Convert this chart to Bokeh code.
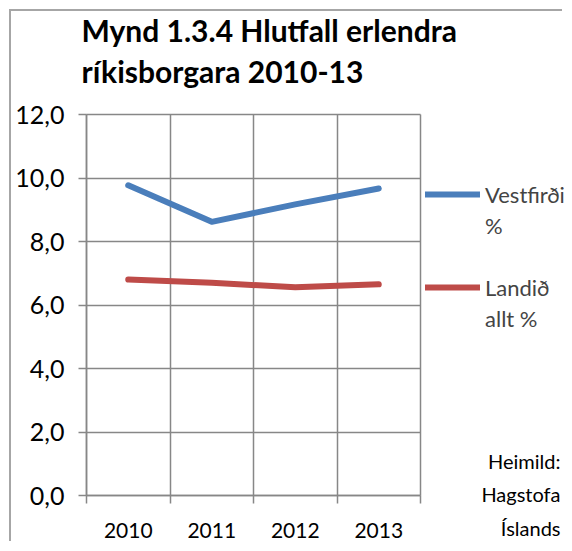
from bokeh.plotting import figure
from bokeh.models import (FixedTicker, CustomJSTickFormatter, Range1d, Legend,
                          LegendItem, Label)
from bokeh.embed import file_html
from bokeh.resources import INLINE

# ---- data ----
years = [2010, 2011, 2012, 2013]
vestfirdir = [9.77, 8.62, 9.17, 9.67]
landid = [6.80, 6.70, 6.56, 6.65]
y_ticks = [0, 2, 4, 6, 8, 10, 12]
legend_lines = [("Vestfirðir", 0), ("%", None), (" ", None), ("Landið", 1), ("allt %", None)]
title_text = "Mynd 1.3.4 Hlutfall erlendra\nríkisborgara 2010-13"
source_text = "Heimild:\nHagstofa\nÍslands"

FONT = "Lato"
GRID = "#878787"

# ---- layout: the frame fills the whole canvas; positions in canvas px ----
W, H = 553, 532
OX = 11                      # canvas origin on the page (margin 9 + border 2)
PL, PR = 86 - OX, 420 - OX   # first / last category boundary
PT, PB = 114 - OX, 495 - OX  # y = 12 / y = 0
ppx = (PR - PL) / len(years)
ppy = (PB - PT) / (y_ticks[-1] - y_ticks[0])
x_start = years[0] - 0.5 - PL / ppx
x_end = x_start + W / ppx
y_end = y_ticks[-1] + PT / ppy
y_start = y_end - H / ppy


def data_x(px):
    return x_start + px / ppx


def data_y(py):
    return y_end - py / ppy


p = figure(width=W, height=H, output_backend="svg", toolbar_location=None,
           x_range=Range1d(x_start, x_end), y_range=Range1d(y_start, y_end),
           min_border_left=0, min_border_right=0, min_border_top=0, min_border_bottom=0)
p.styles = {"margin-left": "9px", "margin-top": "9px",
            "border-left": "2px solid #a6a6a6", "border-top": "2px solid #a6a6a6"}
p.background_fill_color = "white"
p.border_fill_color = "white"
p.outline_line_color = None

x_bounds = (years[0] - 0.5, years[-1] + 0.5)
y_bounds = (y_ticks[0], y_ticks[-1])

# y axis (sits on the first category boundary)
p.yaxis.fixed_location = x_bounds[0]
p.yaxis.bounds = y_bounds
p.yaxis.ticker = FixedTicker(ticks=y_ticks)
p.yaxis.formatter = CustomJSTickFormatter(code="return tick.toFixed(1).replace('.', ',');")
p.yaxis.major_tick_out = 8
p.yaxis.major_tick_in = 0
p.yaxis.minor_tick_out = 0
p.yaxis.minor_tick_in = 0
p.yaxis.axis_line_color = GRID
p.yaxis.axis_line_width = 1.5
p.yaxis.major_tick_line_color = GRID
p.yaxis.major_tick_line_width = 1.5
p.yaxis.major_label_standoff = 14
p.yaxis.major_label_text_font = FONT
p.yaxis.major_label_text_font_size = "25px"
p.yaxis.major_label_text_color = "black"

# x axis (sits on y = 0)
bounds = [y - 0.5 for y in years] + [years[-1] + 0.5]
p.xaxis.fixed_location = y_bounds[0]
p.xaxis.bounds = x_bounds
p.xaxis.ticker = FixedTicker(ticks=years, minor_ticks=bounds)
p.xaxis.formatter = CustomJSTickFormatter(code="return tick.toFixed(0);")
p.xaxis.major_tick_out = 0
p.xaxis.major_tick_in = 0
p.xaxis.minor_tick_out = 8
p.xaxis.minor_tick_in = 0
p.xaxis.minor_tick_line_color = GRID
p.xaxis.minor_tick_line_width = 1.5
p.xaxis.axis_line_color = GRID
p.xaxis.axis_line_width = 1.5
p.xaxis.major_label_standoff = 19
p.xaxis.major_label_text_font = FONT
p.xaxis.major_label_text_font_size = "21px"
p.xaxis.major_label_text_color = "black"

# grids
p.xgrid.ticker = FixedTicker(ticks=bounds)
p.ygrid.ticker = FixedTicker(ticks=y_ticks)
p.xgrid.cross_bounds = y_bounds
p.ygrid.cross_bounds = x_bounds
for g in (p.xgrid, p.ygrid):
    g.grid_line_color = GRID
    g.grid_line_width = 1.5

# lines
r1 = p.line(years, vestfirdir, line_width=6, line_color="#4a7ebb", line_cap="round", line_join="round")
r2 = p.line(years, landid, line_width=6, line_color="#be4b48", line_cap="round", line_join="round")
series = [r1, r2]
blank = p.line(x=[], y=[], line_alpha=0)

# title
p.add_layout(Label(x=data_x(81 - OX), y=data_y(11 - OX), text=title_text,
                   text_align="left", text_baseline="top", text_font=FONT,
                   text_font_size="30px", text_font_style="bold",
                   text_line_height=1.15, text_color="black"))

# legend
ITEM_H = 30
legend = Legend(items=[LegendItem(label=t, renderers=[series[i] if i is not None else blank])
                       for t, i in legend_lines],
                location=(425 - OX, 210))
legend.label_text_font = FONT
legend.label_text_font_size = "22px"
legend.label_standoff = 5
legend.glyph_width = 55
legend.glyph_height = ITEM_H
legend.label_height = ITEM_H
legend.spacing = 1
legend.padding = 0
legend.margin = 0
legend.border_line_color = None
legend.background_fill_alpha = 0
p.add_layout(legend, "center")

# source note
p.add_layout(Label(x=data_x(560 - OX), y=data_y(448 - OX), text=source_text,
                   text_align="right", text_baseline="top", text_font=FONT,
                   text_font_size="20px", text_line_height=1.4, text_color="black"))

open("out.html", "w").write(file_html(p, INLINE))
